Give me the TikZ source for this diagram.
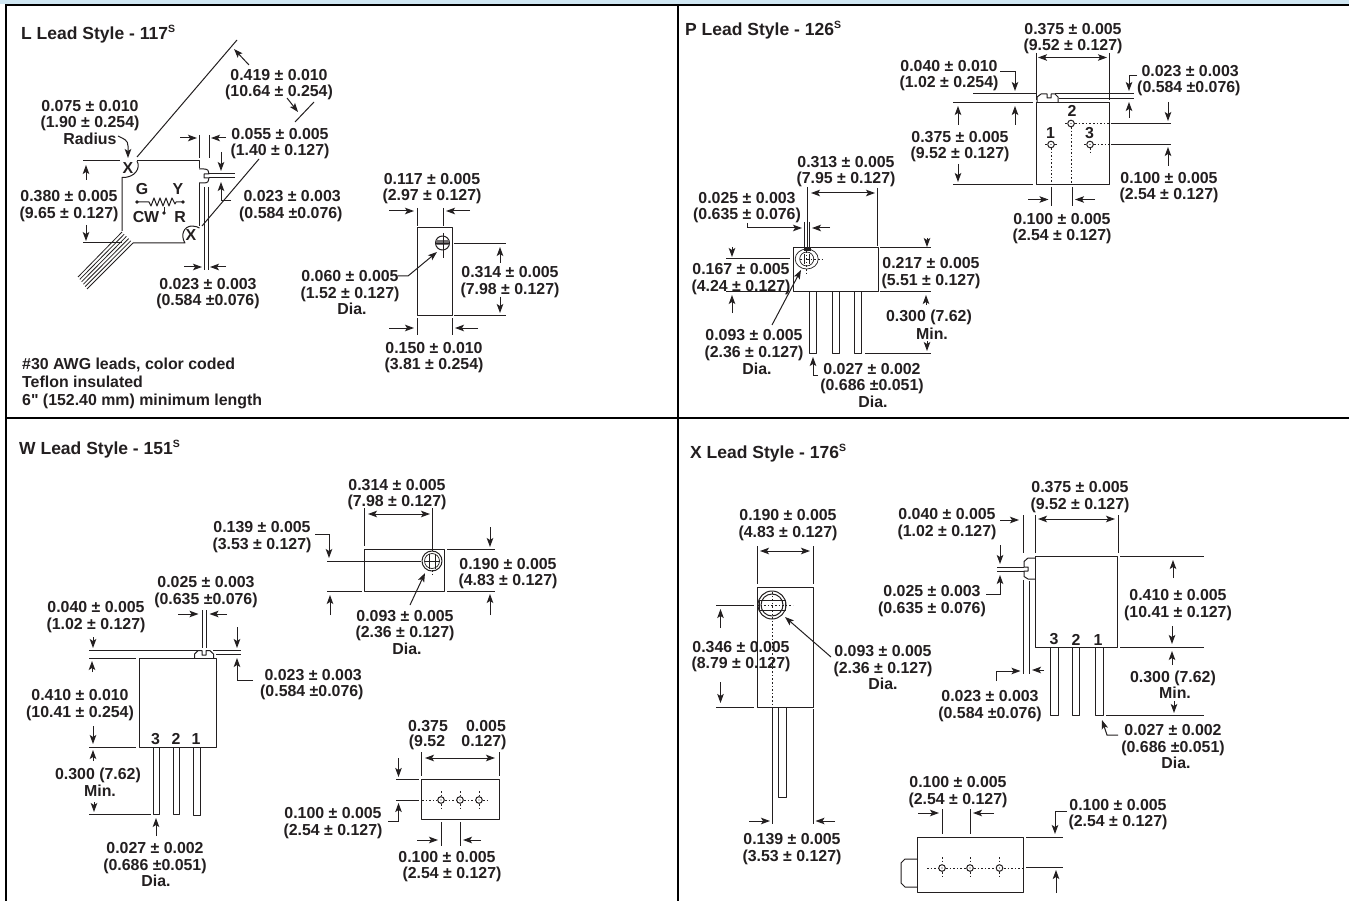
\documentclass[tikz,border=0pt]{standalone}
\usepackage{fontspec}
\setmainfont{Liberation Sans}
\newfontfamily\qf{Liberation Sans}
\usetikzlibrary{arrows.meta}
\definecolor{ink}{HTML}{231F20}
\definecolor{band}{HTML}{CFE6F2}
\newcounter{nn}
\newcommand\lab[3][]{\stepcounter{nn}\node[lbl,yshift=-1.9pt,#1] (t\thenn) at (#2) {#3};}
\newcommand\one[3][]{\stepcounter{nn}\node[lbl,yshift=-.4pt,#1] (t\thenn) at (#2) {#3};}
\newcommand\supS{\raisebox{.42em}{\fontsize{10.5}{10}\selectfont S}}
\newcommand\hole[1]{\draw[part] (#1) circle (3.3);\fill[ink] (#1) circle (.7);}
\tikzset{
 lbl/.style={font=\bfseries\fontsize{15.9}{16.4}\selectfont,text=ink,inner sep=0pt,align=center},
 ttl/.style={lbl,anchor=west,font=\bfseries\fontsize{17.5}{18}\selectfont},
 note/.style={lbl,anchor=west,align=left,font=\bfseries\fontsize{15.9}{18}\selectfont},
 part/.style={draw=ink,line width=1pt,line join=round},
 ext/.style={draw=ink,line width=1pt},
 arr/.style={draw=ink,line width=1pt,-{Stealth[length=9pt,width=6.5pt,inset=2pt]}},
 darr/.style={draw=ink,line width=1pt,{Stealth[length=9pt,width=6.5pt,inset=2pt]}-{Stealth[length=9pt,width=6.5pt,inset=2pt]}},
 dots/.style={draw=ink,line width=.9pt,dash pattern=on 1.6pt off 2pt},
}
\begin{document}
\begin{tikzpicture}[x=1pt,y=-1pt]
\useasboundingbox (0,0) rectangle (1349,901);
\fill[white] (0,0) rectangle (1349,901);
\fill[band] (0,0) rectangle (1349,4);
\draw[black,line width=2pt] (1349,5)--(5.5,5)--(5.5,901);
\draw[black,line width=2pt] (678,5)--(678,901);
\draw[black,line width=2pt] (5.5,418)--(1349,418);

% ---------- L panel ----------
\one[ttl]{21,34}{L Lead Style - 117\supS}
\lab{90,114}{0.075 ± 0.010\\(1.90 ± 0.254)}
\one{90,138}{Radius}
\lab{279,82.5}{0.419 ± 0.010\\(10.64 ± 0.254)}
\lab{280,141.5}{0.055 ± 0.005\\(1.40 ± 0.127)}
\lab[anchor=west,align=left]{239,204}{\ 0.023 ± 0.003\\(0.584 ±0.076)}
\lab{69,204}{0.380 ± 0.005\\(9.65 ± 0.127)}
\lab{208,291.5}{0.023 ± 0.003\\(0.584 ±0.076)}
\one[note]{22,383}{\#30 AWG leads, color coded\\Teflon insulated\\6{\qf\bfseries"} (152.40 mm) minimum length}
\one{142,189}{G}\one{178,189}{Y}\one{146,217}{CW}\one{180,217}{R}
\one{128,168}{X}\one{191,235}{X}
% body
\draw[part] (83,161)--(120,161);
\draw[part] (137,161)--(199,161)--(199,168);
\draw[part] (137,161) .. controls (141,168) and (135,178) .. (122,177.5)--(122,231);
\draw[part] (83,243)--(122,243);
\draw[part] (133,243)--(185,243) .. controls (180,235) and (184,226) .. (192,226) .. controls (195,226) and (198,227) .. (199.5,228);
\draw[part] (199,183)--(199,226);
\draw[part] (199,169)--(204,169) .. controls (208,169) and (209,171) .. (209,174)--(204,174)--(204,178)--(209,178) .. controls (209,181) and (208,183) .. (204,183)--(199,183);
\draw[part] (209,174)--(235,174);\draw[part] (209,178)--(235,178);
\draw[ext] (204,187)--(204,270);\draw[ext] (208.5,187)--(208.5,270);
\draw[ext] (199,135)--(199,158);\draw[ext] (209,135)--(209,158);
\draw[arr] (180,138)--(197,138);\draw[arr] (226,138)--(211,138);
\draw[arr] (221,152)--(221,171);
\draw[arr] (231,201)--(221,201)--(221,182);
\draw[arr] (184,267)--(202,267);\draw[arr] (226,267)--(210,267);
\draw[ext] (137,157)--(237,40);
\draw[arr] (249,65)--(234,49);
\draw[arr] (287,98)--(298,112);
\draw[ext] (295,122)--(314,102);
\draw[ext] (202,226)--(259,159);
\draw[arr] (86,180)--(86,165);\draw[arr] (86,225)--(86,241);
\draw[arr] (118,136) .. controls (124,139) and (128,140) .. (128,146)--(128,158);
% resistor
\fill[ink] (137,202) circle (1.9);\fill[ink] (183,202) circle (1.9);\fill[ink] (164,213) circle (1.9);
\draw[part] (137,202)--(149,202)--(151,206)--(154,198)--(157,206)--(160,198)--(163,206)--(166,198)--(169,206)--(172,198)--(175,204)--(176,202)--(183,202);
\draw[part] (164,213)--(164,207);
% leads
\foreach \t in {0,.2,.4,.6,.8,1}{\draw[ext,line width=.8pt] ({122+\t*11},{232+\t*11})--({78+\t*9},{277+\t*12});}
% side view
\draw[part] (417,228) rectangle (452,315);
\draw[part] (442.5,243) circle (7);
\fill[ink!65] (436,240.5) rectangle (449,245.5);
\draw[part,line width=.6pt] (443,233)--(443,258);\draw[part,line width=.6pt] (436,243)--(449,243);
\draw[ext] (417,208)--(417,226);\draw[ext] (443,208)--(443,226);
\draw[arr] (389,211)--(414,211);\draw[arr] (470,211)--(446,211);
\draw[ext] (454,243.5)--(506,243.5);\draw[ext] (454,315)--(506,315);
\draw[arr] (500,263)--(500,247);\draw[arr] (500,297)--(500,313);
\draw[ext] (417,318)--(417,335);\draw[ext] (452,318)--(452,335);
\draw[arr] (389,328)--(414,328);\draw[arr] (478,328)--(455,328);
\draw[arr] (398,276)--(408,276)--(437,252);
\lab{432,186.5}{0.117 ± 0.005\\(2.97 ± 0.127)}
\lab{510,280}{0.314 ± 0.005\\(7.98 ± 0.127)}
\lab{350,284}{0.060 ± 0.005\\(1.52 ± 0.127)}
\one{352,308}{Dia.}
\lab{434,355.5}{0.150 ± 0.010\\(3.81 ± 0.254)}

% ---------- P panel ----------
\one[ttl]{685,30}{P Lead Style - 126\supS}
\lab{949,74}{0.040 ± 0.010\\(1.02 ± 0.254)}
\lab{1073,37}{0.375 ± 0.005\\(9.52 ± 0.127)}
\lab[anchor=west,align=left]{1137,78.5}{\ 0.023 ± 0.003\\(0.584 ±0.076)}
\lab{960,144.5}{0.375 ± 0.005\\(9.52 ± 0.127)}
\lab{1169,185.5}{0.100 ± 0.005\\(2.54 ± 0.127)}
\lab{1062,226.5}{0.100 ± 0.005\\(2.54 ± 0.127)}
\lab{846,169.5}{0.313 ± 0.005\\(7.95 ± 0.127)}
\lab{747,206}{0.025 ± 0.003\\(0.635 ± 0.076)}
\lab{741,277}{0.167 ± 0.005\\(4.24 ± 0.127)}
\lab{931,271}{0.217 ± 0.005\\(5.51 ± 0.127)}
\one{929,317}{0.300 (7.62)}\one{932,333}{Min.}
\lab{754,343}{0.093 ± 0.005\\(2.36 ± 0.127)}\one{757,368}{Dia.}
\lab{872,376.5}{0.027 ± 0.002\\(0.686 ±0.051)}\one{873,401}{Dia.}
\one{1072,111}{2}\one{1050.5,132.5}{1}\one{1089.5,133}{3}
% top view
\draw[part] (1036,103) rectangle (1109,185);
\draw[part] (1037,103)--(1037,97)--(1041,94)--(1047,94)--(1047,98)--(1051,98)--(1051,94)--(1055,94)--(1058,97)--(1058,103);
\draw[ext] (1036,53)--(1036,100);\draw[ext] (1109,53)--(1109,100);
\draw[darr] (1038,57.5)--(1107,57.5);
\draw[ext] (973,93.5)--(1036,93.5);\draw[ext] (1055,93.5)--(1134,93.5);
\draw[ext] (1059,99)--(1134,99);
\draw[ext] (953,103)--(1033,103);\draw[ext] (953,185)--(1033,185);
\draw[arr] (1000,72)--(1015,72)--(1015,91);\draw[arr] (1015,125)--(1015,106);
\draw[arr] (1137,76)--(1129,76)--(1129,91);\draw[arr] (1129,118)--(1129,102);
\draw[arr] (958,125)--(958,106);\draw[arr] (958,164)--(958,182);
\hole{1071,123.5}\hole{1051,144.5}\hole{1090,144.5}
\draw[dots] (1065,123.5)--(1067,123.5);\draw[dots] (1075,123.5)--(1109,123.5);
\draw[dots] (1071,127)--(1071,184);\draw[dots] (1051,148)--(1051,184);
\draw[dots] (1045,144.5)--(1047,144.5);\draw[dots] (1055,144.5)--(1057,144.5);
\draw[dots] (1084,144.5)--(1086,144.5);\draw[dots] (1094,144.5)--(1109,144.5);\draw[dots] (1090,148)--(1090,153);
\draw[ext] (1111,123.5)--(1171,123.5);\draw[ext] (1111,144.5)--(1171,144.5);
\draw[arr] (1168,102)--(1168,121);\draw[arr] (1168,166)--(1168,147);
\draw[ext] (1051,187)--(1051,206);\draw[ext] (1072,187)--(1072,206);
\draw[arr] (1028,199.5)--(1048.5,199.5);\draw[arr] (1095,199.5)--(1075,199.5);
% side view
\draw[part] (793,248) rectangle (878,292);
\foreach \a in {809,832,854}{\draw[part] (\a,292) rectangle (\a+7.5,353);}
\draw[ext] (807,187)--(807,248);\draw[ext] (877,188)--(877,246);
\draw[darr] (811,193)--(875,193);
\draw[ext] (804,222)--(804,248);\draw[ext] (809.5,222)--(809.5,248);
\fill[ink] (803.5,247.5) rectangle (810.5,251);
\draw[arr] (747,223)--(747,228)--(802,228);\draw[arr] (830,228)--(812,228);
\draw[part,line width=.7pt] (806.7,259) ellipse (11.5 and 10);
\draw[part,line width=.7pt] (806.7,259) circle (7);
\draw[part,line width=.6pt] (804,254)--(804,264);\draw[part,line width=.6pt] (809.5,254)--(809.5,264);
\draw[dots] (800,259)--(823,259);\draw[dots] (806.7,251)--(806.7,273);
\draw[ext] (726,259)--(790,259);\draw[ext] (726,292)--(790,292);
\draw[arr] (732,247)--(732,257);\draw[arr] (732,313)--(732,295);
\draw[ext] (880,248)--(931,248);\draw[ext] (880,292)--(931,292);
\draw[arr] (927,238)--(927,247);\draw[arr] (926,305)--(926,295);
\draw[arr] (927,341)--(927,351);\draw[ext] (865,353)--(931,353);
\draw[arr] (772,325)--(801,270);
\draw[arr] (818,375)--(813,375)--(813,357);

% ---------- W panel ----------
\one[ttl]{19,449}{W Lead Style - 151\supS}
\lab{397,492.5}{0.314 ± 0.005\\(7.98 ± 0.127)}
\lab{262,535}{0.139 ± 0.005\\(3.53 ± 0.127)}
\lab{508,571.5}{0.190 ± 0.005\\(4.83 ± 0.127)}
\lab{405,623.5}{0.093 ± 0.005\\(2.36 ± 0.127)}\one{407,648}{Dia.}
\lab{206,590}{0.025 ± 0.003\\(0.635 ±0.076)}
\lab{96,615}{0.040 ± 0.005\\(1.02 ± 0.127)}
\lab{80,703}{0.410 ± 0.010\\(10.41 ± 0.254)}
\lab[anchor=west,align=left]{260,682.5}{\ 0.023 ± 0.003\\(0.584 ±0.076)}
\one{98,775}{0.300 (7.62)}\one{100,790}{Min.}
\lab{155,856}{0.027 ± 0.002\\(0.686 ±0.051)}\one{156,880}{Dia.}
\one{155.5,739}{3}\one{176,739}{2}\one{196,739}{1}
\one{428,726}{0.375}\one{427,742}{(9.52}\one{486,726}{0.005}\one{484,742}{0.127)}
\lab{333,821}{0.100 ± 0.005\\(2.54 ± 0.127)}
\one{447,857}{0.100 ± 0.005}\one{452,874}{(2.54 ± 0.127)}
% left view
\draw[part] (139,658) rectangle (216,747);
\draw[part] (153,747) rectangle (159,814);\draw[part] (173,747) rectangle (179.5,814);\draw[part] (193.5,747) rectangle (200,815);
\draw[part] (194.5,658)--(194.5,654)--(198,650.7)--(202,650.7)--(202,655)--(206,655)--(206,650.7)--(210,650.7)--(213.5,654)--(213.5,658);
\draw[ext] (89,650.7)--(198,650.7);\draw[ext] (213,650.7)--(241,650.7);\draw[ext] (216,654.5)--(241,654.5);
\draw[ext] (89,658)--(136,658);\draw[ext] (89,747)--(136,747);\draw[ext] (89,814)--(151,814);
\draw[ext] (202,610)--(202,648);\draw[ext] (206,610)--(206,648);
\draw[arr] (178,614)--(198.5,614);\draw[arr] (227,614)--(209.5,614);
\draw[arr] (93,637)--(93,648);\draw[arr] (92,672)--(92,661);
\draw[arr] (93,726)--(93,744);\draw[arr] (93,761)--(93,750);
\draw[arr] (94,802)--(94,812);\draw[arr] (156,836)--(156,818);
\draw[arr] (237,627)--(237,648);\draw[arr] (253,680)--(237,680)--(237,658);
% top view
\draw[part] (364,549) rectangle (444,591);
\draw[ext] (364,508)--(364,546);\draw[ext] (432.5,508)--(432.5,551);
\draw[darr] (368,514)--(430,514);
\draw[ext] (327,561)--(421,561);\draw[ext] (327,591)--(362,591);
\draw[part] (432,561) circle (10);\draw[part,line width=.7pt] (432,561) circle (7.5);
\draw[part,line width=.6pt] (429,553.5)--(429,568.5);\draw[part,line width=.6pt] (435,553.5)--(435,568.5);\draw[part,line width=.6pt] (424.5,561)--(439.5,561);
\draw[dots] (432,570)--(432,577);
\draw[ext] (447,549)--(495,549);\draw[ext] (447,591)--(495,591);
\draw[arr] (490,527)--(490,547);\draw[arr] (490,615)--(490,594);
\draw[arr] (315,534)--(329,534)--(329,558);\draw[arr] (330,615)--(330,595);
\draw[arr] (410,605)--(425,573);
% bottom view
\draw[part] (421,779) rectangle (499,819);
\draw[ext] (421,752)--(421,776);\draw[ext] (499,752)--(499,776);
\draw[darr] (425,758)--(495,758);
\draw[ext] (396,779)--(419,779);\draw[ext] (396,800)--(419,800);
\draw[arr] (398.5,758)--(398.5,777);\draw[arr] (388,821)--(398.5,821)--(398.5,803);
\hole{441,800}\hole{460,800}\hole{479,800}
\draw[dots] (422,800)--(437,800);\draw[dots] (445,800)--(456,800);\draw[dots] (464,800)--(475,800);\draw[dots] (483,800)--(487,800);
\foreach \a in {441,460,479}{\draw[dots] (\a,791)--(\a,796);\draw[dots] (\a,804)--(\a,809);}
\draw[ext] (441,822)--(441,846);\draw[ext] (460,822)--(460,846);
\draw[arr] (417,840)--(438,840);\draw[arr] (481,840)--(463,840);

% ---------- X panel ----------
\one[ttl]{690,453}{X Lead Style - 176\supS}
\lab{788,523}{0.190 ± 0.005\\(4.83 ± 0.127)}
\lab{741,654.5}{0.346 ± 0.005\\(8.79 ± 0.127)}
\lab{883,659}{0.093 ± 0.005\\(2.36 ± 0.127)}\one{883,683}{Dia.}
\lab{792,847}{0.139 ± 0.005\\(3.53 ± 0.127)}
\lab{947,522}{0.040 ± 0.005\\(1.02 ± 0.127)}
\lab{932,599}{0.025 ± 0.003\\(0.635 ± 0.076)}
\lab{1080,495}{0.375 ± 0.005\\(9.52 ± 0.127)}
\lab{1178,603}{0.410 ± 0.005\\(10.41 ± 0.127)}
\one{1173,678}{0.300 (7.62)}\one{1175,692}{Min.}
\lab{1173,738}{0.027 ± 0.002\\(0.686 ±0.051)}\one{1176,762}{Dia.}
\lab{990,704}{0.023 ± 0.003\\(0.584 ±0.076)}
\lab{958,790}{0.100 ± 0.005\\(2.54 ± 0.127)}
\lab{1118,812.5}{0.100 ± 0.005\\(2.54 ± 0.127)}
\one{1054,639}{3}\one{1076,640}{2}\one{1098,640}{1}
% front view
\draw[part] (757,587) rectangle (813,707);
\draw[ext] (757,546)--(757,584);\draw[ext] (813,546)--(813,584);
\draw[darr] (760,551)--(810,551);
\draw[part] (772,605) circle (14);\draw[part] (772,605) circle (11);
\draw[part] (759,600)--(785,600)--(785,610)--(759,610)--cycle;
\draw[dots] (757,605)--(793,605);\draw[dots] (772.5,592)--(772.5,707);
\draw[part] (778,707)--(778,797)--(786.5,797)--(786.5,707);
\draw[ext] (772.5,707)--(772.5,824);\draw[ext] (813,709)--(813,824);
\draw[arr] (749,821)--(770,821);\draw[arr] (835,821)--(815.5,821);
\draw[ext] (716,605)--(754,605);\draw[ext] (716,707)--(754,707);
\draw[arr] (720.5,628)--(720.5,609);\draw[arr] (720.5,682)--(720.5,703);
\draw[arr] (831,657)--(785,617);
% side view
\draw[part] (1035,556) rectangle (1117,647);
\draw[ext] (1035,515)--(1035,553);\draw[ext] (1118,515)--(1118,553);\draw[ext] (1023.5,515)--(1023.5,553);
\draw[darr] (1038,519)--(1115,519);
\draw[part] (1035,558)--(1028,558)--(1024,561.5)--(1024,567)--(1028,567)--(1028,571)--(1024,571)--(1024,576.5)--(1028,579)--(1035,579);
\draw[ext] (997,567)--(1024,567);\draw[ext] (997,571)--(1024,571);
\draw[ext] (1023.5,580)--(1023.5,674);\draw[ext] (1029,581)--(1029,674);
\draw[arr] (996,681)--(996,671)--(1020.5,671);\draw[arr] (1044,670)--(1032,670);
\draw[arr] (1000,520)--(1019,520);
\draw[arr] (1000,545)--(1000,564);\draw[arr] (986,594)--(1000,594)--(1000,575);
\draw[ext] (1120,556)--(1204,556);\draw[ext] (1120,647)--(1204,647);
\draw[arr] (1173,578)--(1173,560);\draw[arr] (1172,626)--(1172,644);
\draw[arr] (1172,665)--(1172,651);
\draw[arr] (1174,701)--(1174,713);\draw[ext] (1106,715.5)--(1204,715.5);
\foreach \a/\b in {1050/1058,1072/1079.5,1095/1103}{\draw[part] (\a,647) rectangle (\b,715.5);}
\draw[arr] (1118,735)--(1107,735)--(1102,720);
% bottom view
\draw[part] (917,837) rectangle (1023,892);
\draw[part] (917,859)--(905,859)--(901,863)--(901,883)--(905,887)--(917,887);
\hole{942,868}\hole{970,868}\hole{999.5,868}
\draw[dots] (927,868)--(938,868);\draw[dots] (946,868)--(966,868);\draw[dots] (974,868)--(995,868);\draw[dots] (1004,868)--(1023,868);
\foreach \a in {942,970,999.5}{\draw[dots] (\a,857)--(\a,864);\draw[dots] (\a,872)--(\a,879);}
\draw[ext] (942,809)--(942,834);\draw[ext] (970,809)--(970,834);
\draw[arr] (918,813)--(939,813);\draw[arr] (994,813)--(973,813);
\draw[ext] (1026,837)--(1063,837);\draw[ext] (1026,867)--(1063,867);
\draw[arr] (1067,811)--(1055,811)--(1055,834);\draw[arr] (1056,893)--(1056,870);
\end{tikzpicture}
\end{document}
